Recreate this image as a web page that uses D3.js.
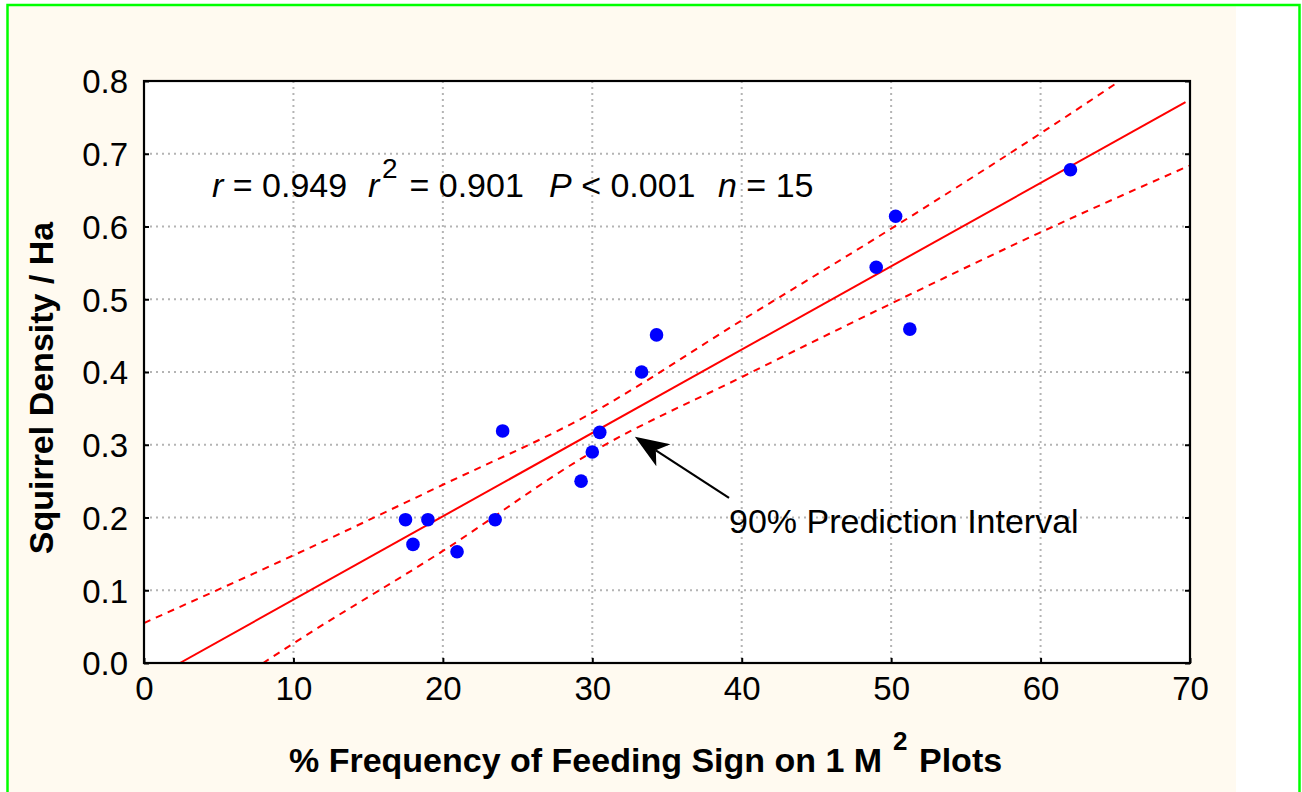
<!DOCTYPE html>
<html>
<head>
<meta charset="utf-8">
<script src="https://cdn.jsdelivr.net/npm/d3@7"></script>
<style>
  html, body { margin: 0; padding: 0; background: #ffffff; }
  svg { display: block; }
  text { font-family: "Liberation Sans", Arial, Helvetica, sans-serif; fill: #000; }
</style>
</head>
<body>
<svg id="chart" width="1302" height="792"></svg>
<script>
// % frequency of feeding sign (x) and squirrel density per hectare (y), one entry per site
const feedingSign = [17.5, 18.0, 19.0, 20.95, 23.5, 24.0, 29.25, 30.0, 30.5, 33.3, 34.3, 49.0, 50.3, 51.25, 62.0];
const squirrelDensity = [0.197, 0.163, 0.197, 0.153, 0.197, 0.319, 0.250, 0.290, 0.317, 0.400, 0.451, 0.544, 0.614, 0.459, 0.678];

// Axis ticks
const xTicks = [0, 10, 20, 30, 40, 50, 60, 70];
const yTicks = [0.0, 0.1, 0.2, 0.3, 0.4, 0.5, 0.6, 0.7, 0.8];

// Fitted regression line (end points)
const fitX = [2.4, 69.7];
const fitY = [0.0, 0.771];

// Interval bands sampled along x
const bandX = [0, 10, 20, 30, 40, 50, 60, 70];
const upperBand = [0.055, 0.148, 0.245, 0.344, 0.471, 0.597, 0.728, 0.865];
const lowerBand = [-0.110, 0.027, 0.154, 0.290, 0.393, 0.494, 0.592, 0.684];

const svg = d3.select("#chart");
const W = 1302, H = 792;
const plot = { left: 144, right: 1190, top: 81, bottom: 663 };

// Page background: cream panel with a white strip on the right, green frame
svg.append("rect").attr("x", 0).attr("y", 0).attr("width", W).attr("height", H).attr("fill", "#ffffff");
svg.append("rect").attr("x", 8).attr("y", 5).attr("width", 1228).attr("height", H).attr("fill", "#fffaf0");
svg.append("path")
  .attr("d", `M7.5,${H + 5} V5 H1299.5 V${H + 5}`)
  .attr("fill", "none").attr("stroke", "#00ff00").attr("stroke-width", 2.5);

const x = d3.scaleLinear().domain([0, 70]).range([plot.left, plot.right]);
const y = d3.scaleLinear().domain([0, 0.8]).range([plot.bottom, plot.top]);

// Plot area
svg.append("rect")
  .attr("x", plot.left).attr("y", plot.top)
  .attr("width", plot.right - plot.left).attr("height", plot.bottom - plot.top)
  .attr("fill", "#ffffff");

svg.append("clipPath").attr("id", "plotClip")
  .append("rect")
  .attr("x", plot.left).attr("y", plot.top)
  .attr("width", plot.right - plot.left).attr("height", plot.bottom - plot.top);

// Dotted grid
const grid = svg.append("g").attr("stroke", "#b4b4b4").attr("stroke-width", 2).attr("stroke-dasharray", "2,4");
grid.selectAll("line.gx").data(xTicks.slice(1, -1)).join("line")
  .attr("x1", d => x(d)).attr("x2", d => x(d))
  .attr("y1", plot.top).attr("y2", plot.bottom);
grid.selectAll("line.gy").data(yTicks.slice(1, -1)).join("line")
  .attr("y1", d => y(d)).attr("y2", d => y(d))
  .attr("x1", plot.left).attr("x2", plot.right);

// Axes with inward ticks
const fontSize = 33;
const xAxis = svg.append("g").attr("transform", `translate(0,${plot.bottom})`)
  .call(d3.axisBottom(x).tickValues(xTicks).tickFormat(d3.format("d")).tickSizeInner(-5).tickSizeOuter(0).tickPadding(14));
xAxis.select(".domain").remove();
xAxis.selectAll("line").attr("stroke", "#000").attr("stroke-width", 2);
xAxis.selectAll("text").attr("font-size", fontSize).attr("font-family", "Liberation Sans, Arial, sans-serif").attr("fill", "#000");

const yAxis = svg.append("g").attr("transform", `translate(${plot.left},0)`)
  .call(d3.axisLeft(y).tickValues(yTicks).tickFormat(d3.format(".1f")).tickSizeInner(-5).tickSizeOuter(0).tickPadding(16));
yAxis.select(".domain").remove();
yAxis.selectAll("line").attr("stroke", "#000").attr("stroke-width", 2);
yAxis.selectAll("text").attr("font-size", fontSize).attr("font-family", "Liberation Sans, Arial, sans-serif").attr("fill", "#000").attr("dy", "0.36em");

const yAxisR = svg.append("g").attr("transform", `translate(${plot.right},0)`)
  .call(d3.axisRight(y).tickValues(yTicks).tickFormat("").tickSizeInner(-5).tickSizeOuter(0));
yAxisR.select(".domain").remove();
yAxisR.selectAll("line").attr("stroke", "#000").attr("stroke-width", 2);

// Interval bands and regression line
const clipped = svg.append("g").attr("clip-path", "url(#plotClip)");
const bandLine = d3.line().x(d => x(d[0])).y(d => y(d[1])).curve(d3.curveMonotoneX);
[upperBand, lowerBand].forEach(band => {
  clipped.append("path")
    .attr("d", bandLine(bandX.map((v, i) => [v, band[i]])))
    .attr("fill", "none").attr("stroke", "#ff0000")
    .attr("stroke-width", 2).attr("stroke-dasharray", "7,6");
});
clipped.append("path")
  .attr("d", d3.line().x(d => x(d[0])).y(d => y(d[1]))(fitX.map((v, i) => [v, fitY[i]])))
  .attr("fill", "none").attr("stroke", "#ff0000").attr("stroke-width", 2);

// Data points
svg.append("g").selectAll("circle")
  .data(feedingSign.map((v, i) => [v, squirrelDensity[i]]))
  .join("circle")
  .attr("cx", d => x(d[0])).attr("cy", d => y(d[1]))
  .attr("r", 6.8).attr("fill", "#0000ff");

// Plot frame
svg.append("rect")
  .attr("x", plot.left).attr("y", plot.top)
  .attr("width", plot.right - plot.left).attr("height", plot.bottom - plot.top)
  .attr("fill", "none").attr("stroke", "#000").attr("stroke-width", 2.2);

// Statistics line
const statsY = 197;
const stats = svg.append("text").attr("font-size", 34).attr("y", statsY).attr("xml:space", "preserve");
stats.append("tspan").attr("x", 212).attr("font-style", "italic").text("r");
stats.append("tspan").text(" = 0.949");
stats.append("tspan").attr("x", 368).attr("font-style", "italic").text("r");
stats.append("tspan").attr("x", 382).attr("dy", -19).attr("font-size", 28).text("2");
stats.append("tspan").attr("x", 400).attr("dy", 19).text(" = 0.901");
stats.append("tspan").attr("x", 549).attr("font-style", "italic").text("P");
stats.append("tspan").text(" < 0.001");
stats.append("tspan").attr("x", 718).attr("font-style", "italic").text("n");
stats.append("tspan").text(" = 15");

// Arrow pointing at the lower band
const tip = [x(32.85), y(0.311)];
const tail = [x(39.15), y(0.227)];
const ang = Math.atan2(tip[1] - tail[1], tip[0] - tail[0]);
const headLen = 34, headHalf = 13, notch = 25;
const along = (p, d, off) => [
  p[0] - Math.cos(ang) * d - Math.sin(ang) * off,
  p[1] - Math.sin(ang) * d + Math.cos(ang) * off
];
svg.append("line")
  .attr("x1", tail[0]).attr("y1", tail[1])
  .attr("x2", along(tip, notch, 0)[0]).attr("y2", along(tip, notch, 0)[1])
  .attr("stroke", "#000").attr("stroke-width", 2.2);
svg.append("path")
  .attr("d", "M" + [tip, along(tip, headLen, headHalf), along(tip, notch, 0), along(tip, headLen, -headHalf)].map(p => p.join(",")).join("L") + "Z")
  .attr("fill", "#000");

svg.append("text").attr("x", 729).attr("y", 533).attr("font-size", 34).text("90% Prediction Interval");

// Axis titles
const xTitle = svg.append("text").attr("y", 772).attr("font-size", 34).attr("font-weight", "bold");
xTitle.append("tspan").attr("x", 289).text("% Frequency of Feeding Sign on 1 M");
xTitle.append("tspan").attr("x", 893).attr("dy", -22).attr("font-size", 26).text("2");
xTitle.append("tspan").attr("x", 919).attr("dy", 22).text("Plots");

svg.append("text")
  .attr("transform", "translate(53,388) rotate(-90)")
  .attr("text-anchor", "middle").attr("font-size", 34).attr("font-weight", "bold")
  .text("Squirrel Density / Ha");
</script>
</body>
</html>
